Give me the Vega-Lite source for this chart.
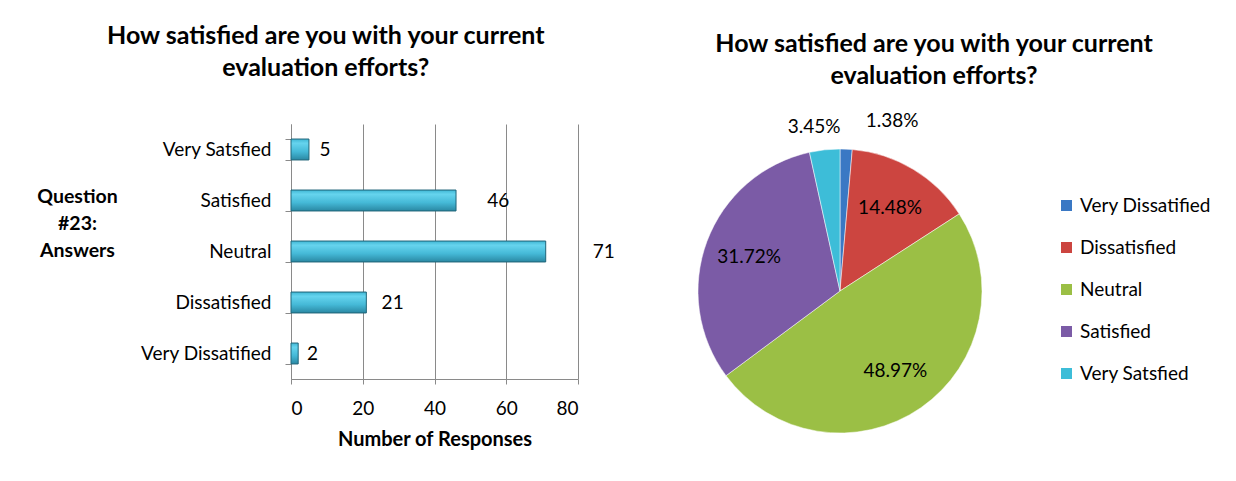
{
  "$schema": "https://vega.github.io/schema/vega-lite/v6.json",
  "background": "white",
  "padding": {"left": 36, "top": 24, "right": 5, "bottom": 5},
  "spacing": 62,
  "config": {"font": "Lato", "view": {"stroke": null}},
  "datasets": {
    "answers": [
      {"answer": "Very Dissatified", "count": 2, "share": 0.0138, "rank": 1},
      {"answer": "Dissatisfied", "count": 21, "share": 0.1448, "rank": 2},
      {"answer": "Neutral", "count": 71, "share": 0.4897, "rank": 3},
      {"answer": "Satisfied", "count": 46, "share": 0.3172, "rank": 4},
      {"answer": "Very Satsfied", "count": 5, "share": 0.0345, "rank": 5}
    ]
  },
  "hconcat": [
    {
      "width": 287,
      "height": 255,
      "title": {"text": ["How satisfied are you with your current", "evaluation efforts?"], "fontSize": 25, "fontWeight": "bold", "lineHeight": 32, "frame": "bounds", "anchor": "middle", "offset": 34, "color": "black"},
      "data": {"name": "answers"},
      "encoding": {
        "y": {
          "field": "answer", "type": "nominal",
          "sort": ["Very Satsfied", "Satisfied", "Neutral", "Dissatisfied", "Very Dissatified"],
          "scale": {"paddingInner": 0.59, "paddingOuter": 0.295},
          "axis": {
            "title": ["Question", "#23:", "Answers"],
            "titleAngle": 0, "titleFontSize": 19.5, "titleFontWeight": "bold", "titleLineHeight": 27,
            "titleAlign": "center", "titleBaseline": "middle", "titleX": -214, "titleY": 72, "titleColor": "black",
            "labelFontSize": 19, "labelColor": "black", "labelPadding": 14,
            "tickBand": "extent", "tickSize": 6, "tickColor": "#8a8a8a", "domainColor": "#8a8a8a", "grid": false
          }
        }
      },
      "layer": [
        {
          "mark": {
            "type": "bar",
            "color": {"gradient": "linear", "x1": 0, "y1": 0, "x2": 0, "y2": 1,
              "stops": [
                {"offset": 0, "color": "#3fb6d4"},
                {"offset": 0.2, "color": "#66d4ee"},
                {"offset": 0.6, "color": "#45b9d7"},
                {"offset": 1, "color": "#2a88a3"}
              ]},
            "stroke": "#1f6478", "strokeWidth": 1
          },
          "encoding": {
            "x": {
              "field": "count", "type": "quantitative",
              "scale": {"domain": [0, 80]},
              "axis": {
                "title": "Number of Responses", "titleFontSize": 20, "titleFontWeight": "bold", "titleColor": "black", "titlePadding": 11,
                "values": [0, 20, 40, 60, 80], "labelFontSize": 19, "labelColor": "black", "labelPadding": 15,
                "tickSize": 5, "tickColor": "#8a8a8a", "domainColor": "#8a8a8a",
                "grid": true, "gridColor": "#8a8a8a", "gridOpacity": 1
              }
            }
          }
        },
        {
          "mark": {"type": "text", "align": "center", "baseline": "middle", "dx": 13, "fontSize": 19, "color": "black"},
          "encoding": {
            "x": {"field": "count", "type": "quantitative", "scale": {"domain": [0, 68]}, "axis": null},
            "text": {"field": "count", "type": "quantitative"}
          }
        }
      ],
      "resolve": {"scale": {"x": "independent"}}
    },
    {
      "width": 284,
      "height": 334,
      "title": {"text": ["How satisfied are you with your current", "evaluation efforts?"], "fontSize": 25, "fontWeight": "bold", "lineHeight": 32, "frame": "group", "anchor": "middle", "dx": 94, "offset": 23, "color": "black"},
      "data": {"name": "answers"},
      "encoding": {
        "theta": {"field": "count", "type": "quantitative", "stack": true},
        "order": {"field": "rank", "type": "quantitative"},
        "color": {
          "field": "answer", "type": "nominal",
          "sort": ["Very Dissatified", "Dissatisfied", "Neutral", "Satisfied", "Very Satsfied"],
          "scale": {
            "domain": ["Very Dissatified", "Dissatisfied", "Neutral", "Satisfied", "Very Satsfied"],
            "range": ["#3a78c4", "#cc4540", "#9bbf45", "#7b5ba6", "#3dbdd8"]
          },
          "legend": {
            "title": null, "orient": "none", "legendX": 766, "legendY": 72,
            "symbolType": "square", "symbolSize": 121, "symbolStrokeWidth": 0,
            "labelFontSize": 19, "labelColor": "black", "labelOffset": 4, "rowPadding": 22
          }
        }
      },
      "layer": [
        {"mark": {"type": "arc", "outerRadius": 142, "stroke": "#ffffff", "strokeOpacity": 0.5, "strokeWidth": 1}},
        {
          "mark": {"type": "text", "fontSize": 19, "color": "black", "radius": 97},
          "encoding": {
            "text": {"condition": {"test": "datum.count < 10", "value": ""}, "field": "share", "type": "quantitative", "format": ".2%"},
            "color": {"value": "black"}
          }
        },
        {
          "mark": {"type": "text", "fontSize": 19, "color": "black", "radius": 165, "dx": -8},
          "encoding": {
            "text": {"condition": {"test": "datum.count != 5", "value": ""}, "field": "share", "type": "quantitative", "format": ".2%"},
            "color": {"value": "black"}
          }
        },
        {
          "mark": {"type": "text", "fontSize": 19, "color": "black", "radius": 165, "dx": 45, "dy": -5},
          "encoding": {
            "text": {"condition": {"test": "datum.count != 2", "value": ""}, "field": "share", "type": "quantitative", "format": ".2%"},
            "color": {"value": "black"}
          }
        }
      ]
    }
  ]
}
